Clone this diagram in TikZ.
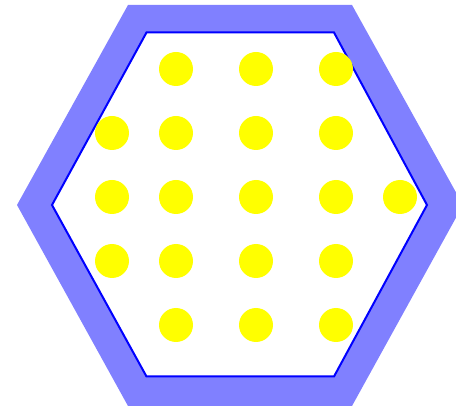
\documentclass[tikz,border=0pt]{standalone}
\definecolor{yel}{RGB}{255,255,0}
\definecolor{bandblue}{RGB}{128,128,255}
\definecolor{edgeblue}{RGB}{0,0,255}
\begin{document}
\begin{tikzpicture}[x=1pt,y=-1pt,
  dot/.style={fill=yel},
  outerhex/.style={fill=bandblue},
  innerhex/.style={fill=white,draw=edgeblue,line width=2pt,line join=miter}]
\useasboundingbox (0,0) rectangle (456,406);
\clip (0,0) rectangle (456,406);
\fill[outerhex] (17,205) -- (128,5) -- (352,5) -- (463,205) -- (352,406) -- (128,406) -- cycle;
\filldraw[innerhex] (52,205) -- (146.5,32.5) -- (334,32.5) -- (427,205) -- (334,376.5) -- (146.5,376.5) -- cycle;
\foreach \x in {176,256,336} {\fill[dot] (\x,69) circle (17);}
\foreach \x in {112,176,256,336} {\fill[dot] (\x,133) circle (17);}
\foreach \x in {112,176,256,336,400} {\fill[dot] (\x,197) circle (17);}
\foreach \x in {112,176,256,336} {\fill[dot] (\x,261) circle (17);}
\foreach \x in {176,256,336} {\fill[dot] (\x,325) circle (17);}
\end{tikzpicture}
\end{document}
